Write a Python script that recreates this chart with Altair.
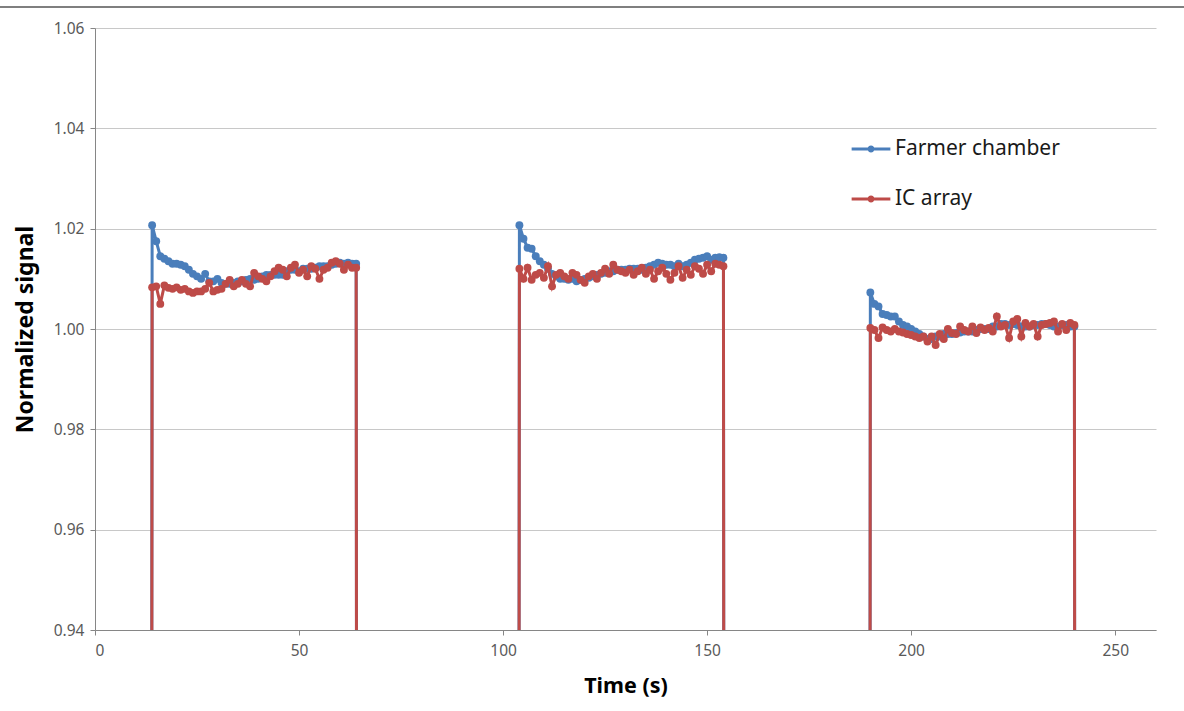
import altair as alt
import pandas as pd

# ---- data ----
seg_starts = [14, 104, 190]

farmer_1 = [1.0207, 1.0175, 1.0145, 1.0140, 1.0135, 1.0130, 1.0130, 1.0128, 1.0125, 1.0118,
            1.0110, 1.0105, 1.0100, 1.0110, 1.0095, 1.0095, 1.0100, 1.0092, 1.0090, 1.0090,
            1.0092, 1.0095, 1.0095, 1.0098, 1.0100, 1.0098, 1.0100, 1.0105, 1.0108, 1.0108,
            1.0108, 1.0108, 1.0108, 1.0115, 1.0118, 1.0118, 1.0115, 1.0120, 1.0120, 1.0120,
            1.0122, 1.0125, 1.0125, 1.0125, 1.0128, 1.0130, 1.0132, 1.0130, 1.0132, 1.0130,
            1.0130]
ic_1 = [1.0083, 1.0085, 1.0050, 1.0087, 1.0082, 1.0080, 1.0083, 1.0078, 1.0080, 1.0075,
        1.0072, 1.0075, 1.0075, 1.0080, 1.0092, 1.0075, 1.0078, 1.0080, 1.0090, 1.0098,
        1.0085, 1.0090, 1.0098, 1.0090, 1.0085, 1.0112, 1.0105, 1.0100, 1.0095, 1.0105,
        1.0115, 1.0122, 1.0118, 1.0105, 1.0122, 1.0128, 1.0112, 1.0118, 1.0105, 1.0125,
        1.0120, 1.0100, 1.0118, 1.0122, 1.0132, 1.0135, 1.0130, 1.0118, 1.0128, 1.0122,
        1.0122]

farmer_2 = [1.0207, 1.0180, 1.0162, 1.0160, 1.0145, 1.0135, 1.0128, 1.0120, 1.0110, 1.0105,
            1.0100, 1.0100, 1.0098, 1.0100, 1.0095, 1.0098, 1.0100, 1.0102, 1.0105, 1.0108,
            1.0110, 1.0112, 1.0115, 1.0115, 1.0118, 1.0118, 1.0118, 1.0120, 1.0120, 1.0120,
            1.0118, 1.0122, 1.0125, 1.0128, 1.0132, 1.0130, 1.0128, 1.0128, 1.0125, 1.0130,
            1.0125, 1.0128, 1.0132, 1.0138, 1.0140, 1.0142, 1.0145, 1.0138, 1.0142, 1.0143,
            1.0142]
ic_2 = [1.0120, 1.0100, 1.0122, 1.0098, 1.0108, 1.0112, 1.0102, 1.0125, 1.0085, 1.0108,
        1.0112, 1.0105, 1.0100, 1.0112, 1.0108, 1.0098, 1.0092, 1.0105, 1.0110, 1.0100,
        1.0112, 1.0120, 1.0110, 1.0128, 1.0118, 1.0115, 1.0112, 1.0118, 1.0108, 1.0115,
        1.0122, 1.0110, 1.0118, 1.0100, 1.0115, 1.0122, 1.0110, 1.0098, 1.0112, 1.0125,
        1.0102, 1.0118, 1.0108, 1.0125, 1.0120, 1.0110, 1.0128, 1.0115, 1.0130, 1.0128,
        1.0125]

farmer_3 = [1.0073, 1.0050, 1.0045, 1.0030, 1.0028, 1.0025, 1.0025, 1.0015, 1.0008, 1.0005,
            1.0000, 0.9995, 0.9990, 0.9985, 0.9980, 0.9980, 0.9985, 0.9985, 0.9990, 0.9990,
            0.9990, 0.9992, 0.9993, 0.9995, 0.9995, 0.9995, 0.9998, 1.0000, 1.0000, 1.0000,
            1.0005, 1.0005, 1.0010, 1.0010, 1.0008, 1.0010, 1.0008, 1.0005, 1.0005, 1.0005,
            1.0008, 1.0008, 1.0010, 1.0010, 1.0008, 1.0005, 1.0005, 1.0008, 1.0008, 1.0005,
            1.0005]
ic_3 = [1.0002, 0.9998, 0.9982, 1.0003, 0.9998, 0.9995, 1.0000, 0.9995, 0.9993, 0.9990,
        0.9988, 0.9985, 0.9982, 0.9985, 0.9975, 0.9985, 0.9968, 0.9990, 0.9980, 1.0000,
        0.9992, 0.9990, 1.0005, 0.9998, 0.9995, 1.0005, 0.9992, 1.0003, 0.9998, 1.0002,
        0.9995, 1.0025, 1.0005, 1.0008, 0.9982, 1.0015, 1.0020, 0.9985, 1.0012, 1.0005,
        1.0010, 0.9985, 1.0008, 1.0010, 1.0012, 1.0015, 0.9995, 1.0010, 0.9998, 1.0012,
        1.0008]

series_names = ["Farmer chamber", "IC array"]
series_colors = ["#4A7EBB", "#BE4B48"]
y_ticks = [0.94, 0.96, 0.98, 1.00, 1.02, 1.04, 1.06]
x_ticks = [0, 50, 100, 150, 200, 250]


def build(name, segments):
    rows = []
    order = 0
    for start, vals in zip(seg_starts, segments):
        # signal is zero before and after each irradiation window
        rows.append({"series": name, "t": start - 1, "v": 0.0, "o": order}); order += 1
        for i, v in enumerate(vals):
            rows.append({"series": name, "t": start + i, "v": v, "o": order}); order += 1
        rows.append({"series": name, "t": start + len(vals), "v": 0.0, "o": order}); order += 1
    return rows


df = pd.DataFrame(build("Farmer chamber", [farmer_1, farmer_2, farmer_3])
                  + build("IC array", [ic_1, ic_2, ic_3]))

FONT = "Noto Sans"

color = alt.Color(
    "series:N",
    scale=alt.Scale(domain=series_names, range=series_colors),
    legend=alt.Legend(
        title=None,
        orient="none",
        legendX=755,
        legendY=100,
        symbolType="M-1,0L1,0M0.1,0A0.1,0.1 0 1,1 -0.1,0A0.1,0.1 0 1,1 0.1,0Z",
        symbolSize=1500,
        symbolStrokeWidth=3,
        labelFontSize=21,
        labelFont=FONT,
        labelColor="#1a1a1a",
        labelLimit=400,
        rowPadding=19,
        labelOffset=3,
        padding=0,
    ),
)

x = alt.X("t:Q", scale=alt.Scale(domain=[0, 260], nice=False),
          axis=alt.Axis(values=x_ticks, title="Time (s)", grid=False))
y = alt.Y("v:Q", scale=alt.Scale(domain=[0.94, 1.06], nice=False, zero=False),
          axis=alt.Axis(values=y_ticks, format=".2f", title="Normalized signal"))

layers = []
for name in series_names:
    sub = alt.Chart(df).transform_filter(alt.datum.series == name)
    layers.append(sub.mark_line(strokeWidth=3, clip=True).encode(
        x=x, y=y, color=color, order="o:Q"))
    layers.append(sub.mark_circle(size=62, opacity=1, clip=True).encode(
        x=x, y=y, color=color))

top_rule = alt.Chart(df).mark_rule(color="#7f7f7f", strokeWidth=2, clip=False).encode(
    x=alt.value(-95), x2=alt.value(1089), y=alt.value(-21))

chart = alt.layer(top_rule, *layers).properties(
    width=1061, height=602,
    autosize=alt.AutoSizeParams(type="none"),
    padding={"left": 95, "top": 28, "right": 28, "bottom": 81},
    background="white",
).configure_view(stroke=None).configure_axis(
    labelFont=FONT, labelFontSize=15.5, labelColor="#595959",
    titleFont=FONT, titleFontWeight="bold", titleColor="#000000",
    domainColor="#868686", tickColor="#868686", tickSize=5,
    gridColor="#c8c8c8", gridWidth=1,
).configure_axisY(
    labelPadding=6, titlePadding=16, titleFontSize=23, domain=True, grid=True,
).configure_axisX(
    labelPadding=8, titlePadding=17, titleFontSize=21.5, grid=False,
)

chart.save("out.html", embed_options={"renderer": "svg", "actions": False})
